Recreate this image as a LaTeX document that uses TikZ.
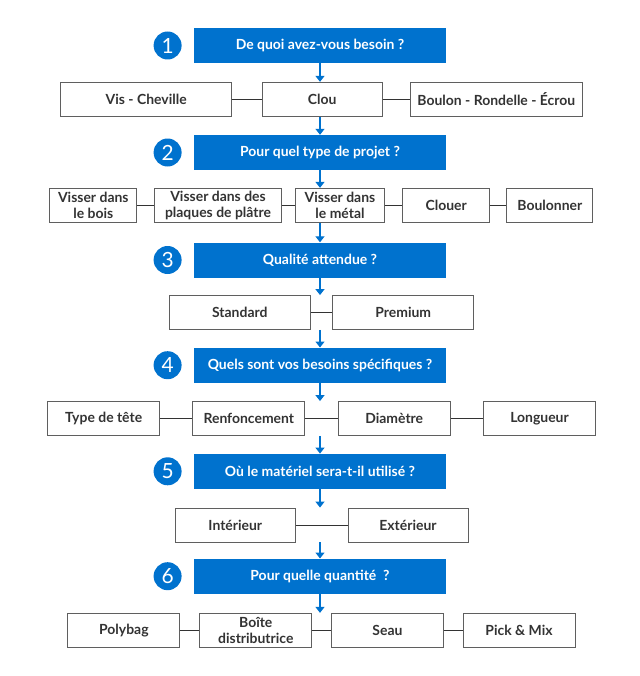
\documentclass[tikz,border=0pt]{standalone}
\usepackage{fontspec}
\setmainfont{Lato}
\usepackage{tikz}
\usetikzlibrary{positioning, calc}
\usetikzlibrary{arrows.meta}
\definecolor{stepblue}{RGB}{0,114,206}
\definecolor{boxgray}{RGB}{95,95,95}
\definecolor{textgray}{RGB}{51,51,51}
\tikzstyle{questionbox}=[rectangle,fill=stepblue,text=white,
minimum width=252bp,minimum height=35bp,inner sep=0pt,
font=\fontsize{14}{16}\selectfont\bfseries]
\tikzstyle{numcircle}=[circle,fill=stepblue,text=white,minimum size=28bp,
inner sep=0pt,font=\fontsize{21}{21}\selectfont]
\tikzstyle{choicebox}=[rectangle,draw=boxgray,line width=0.9bp,fill=white,
minimum height=34bp,inner sep=0pt,align=center,text=textgray,
font=\fontsize{14}{15.5}\selectfont\bfseries]
\tikzstyle{edgepath} = [-{Triangle[width=9bp,length=6bp]},draw=stepblue,
line width=1.3bp]
\tikzstyle{linkpath} = [draw=textgray,line width=1bp]
\def \circlegap {12bp}

\begin{document}
\begin{tikzpicture}[x=1bp,y=-1bp]
        \useasboundingbox (0,0) rectangle (640,676);

        % step 1
        \node[questionbox] (q1) at (320,45.5) {De quoi avez-vous besoin ?};
        \node[numcircle, left=\circlegap of q1] (c1) {1};
        \node[choicebox, minimum width=171bp] (vis) at (146.2,99.3) {Vis - Cheville};
        \node[choicebox, minimum width=120bp] (clou) at (322.2,99.3) {Clou};
        \node[choicebox, minimum width=172bp] (boulon) at (496.3,99.3) {Boulon - Rondelle - Écrou};
        \path[linkpath]
            (vis) edge node {} (clou)
            (clou) edge node {} (boulon);

        % step 2
        \node[questionbox] (q2) at (320,152.5) {Pour quel type de projet ?};
        \node[numcircle, left=\circlegap of q2] (c2) {2};
        \node[choicebox, minimum width=87bp] (bois) at (93.3,205.3) {Visser dans\\le bois};
        \node[choicebox, minimum width=127bp] (platre) at (218,205.3) {Visser dans des\\plaques de plâtre};
        \node[choicebox, minimum width=89bp] (metal) at (340,205.3) {Visser dans\\le métal};
        \node[choicebox, minimum width=87bp] (clouer) at (446.2,205.3) {Clouer};
        \node[choicebox, minimum width=86bp] (boulonner) at (549.9,205.3) {Boulonner};
        \path[linkpath]
            (bois) edge node {} (platre)
            (platre) edge node {} (metal)
            (metal) edge node {} (clouer)
            (clouer) edge node {} (boulonner);

        % step 3
        \node[questionbox] (q3) at (320,260) {Qualité attendue ?};
        \node[numcircle, left=\circlegap of q3] (c3) {3};
        \node[choicebox, minimum width=141bp] (standard) at (239.8,312.5) {Standard};
        \node[choicebox, minimum width=141bp] (premium) at (403.2,312.5) {Premium};
        \path[linkpath]
            (standard) edge node {} (premium);

        % step 4
        \node[questionbox] (q4) at (320,365.2) {Quels sont vos besoins spécifiques ?};
        \node[numcircle, left=\circlegap of q4] (c4) {4};
        \node[choicebox, minimum width=112bp] (tete) at (103.6,418.5) {Type de tête};
        \node[choicebox, minimum width=112bp] (renfonc) at (248.8,418.5) {Renfoncement};
        \node[choicebox, minimum width=112bp] (diametre) at (394.2,418.5) {Diamètre};
        \node[choicebox, minimum width=112bp] (longueur) at (539.5,418.5) {Longueur};
        \path[linkpath]
            (tete) edge node {} (renfonc)
            (renfonc) edge node {} (diametre)
            (diametre) edge node {} (longueur);

        % step 5
        \node[questionbox] (q5) at (320,471.3) {Où le matériel sera-t-il utilisé ?};
        \node[numcircle, left=\circlegap of q5] (c5) {5};
        \node[choicebox, minimum width=120bp] (interieur) at (235.3,525) {Intérieur};
        \node[choicebox, minimum width=120bp] (exterieur) at (408,525) {Extérieur};
        \path[linkpath]
            (interieur) edge node {} (exterieur);

        % step 6
        \node[questionbox] (q6) at (320,576.2) {Pour quelle quantité ~?};
        \node[numcircle, left=\circlegap of q6] (c6) {6};
        \node[choicebox, minimum width=112bp] (polybag) at (123.9,630.3) {Polybag};
        \node[choicebox, minimum width=112bp] (boite) at (255.8,630.3) {Boîte\\distributrice};
        \node[choicebox, minimum width=112bp] (seau) at (387.5,630.3) {Seau};
        \node[choicebox, minimum width=112bp] (pickmix) at (519,630.3) {Pick \& Mix};
        \path[linkpath]
            (polybag) edge node {} (boite)
            (boite) edge node {} (seau)
            (seau) edge node {} (pickmix);

        % arrows down the steps
        \draw[edgepath] (q1.south) -- (q1.south |- clou.north);
        \draw[edgepath] (q1.south |- clou.south) -- (q2.north);
        \draw[edgepath] (q2.south) -- (q2.south |- metal.north);
        \draw[edgepath] (q2.south |- metal.south) -- (q3.north);
        \draw[edgepath] (q3.south) -- (q3.south |- standard.north);
        \draw[edgepath] (q3.south |- standard.south) -- (q4.north);
        \draw[edgepath] (q4.south) -- (q4.south |- renfonc.north);
        \draw[edgepath] (q4.south |- renfonc.south) -- (q5.north);
        \draw[edgepath] (q5.south) -- (q5.south |- interieur.north);
        \draw[edgepath] (q5.south |- interieur.south) -- (q6.north);
        \draw[edgepath] (q6.south) -- (q6.south |- boite.north);
    \end{tikzpicture}
\end{document}
